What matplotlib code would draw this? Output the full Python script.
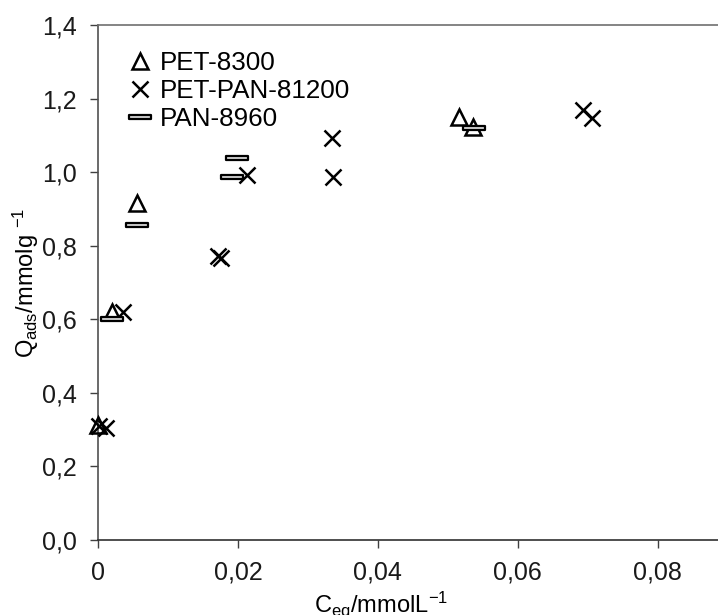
import matplotlib
matplotlib.use("Agg")
import matplotlib.pyplot as plt
from matplotlib.path import Path

# Adsorption isotherm data
pet_x = [0.0000, 0.0020, 0.0056, 0.0516, 0.0536]
pet_y = [0.313, 0.620, 0.916, 1.149, 1.122]

petpan_x = [0.0002, 0.0012, 0.0036, 0.0172, 0.0176, 0.0213, 0.0334, 0.0336, 0.0693, 0.0706]
petpan_y = [0.310, 0.305, 0.620, 0.772, 0.766, 0.992, 1.092, 0.986, 1.170, 1.146]

pan_x = [0.0020, 0.0056, 0.0191, 0.0199, 0.0537]
pan_y = [0.600, 0.857, 0.986, 1.038, 1.120]

labels = ["PET-8300", "PET-PAN-81200", "PAN-8960"]
x_ticks = [0, 0.02, 0.04, 0.06, 0.08]
x_ticklabels = ["0", "0,02", "0,04", "0,06", "0,08"]
y_ticks = [0.0, 0.2, 0.4, 0.6, 0.8, 1.0, 1.2, 1.4]
y_ticklabels = ["0,0", "0,2", "0,4", "0,6", "0,8", "1,0", "1,2", "1,4"]

plt.rcParams.update({
    "font.family": ["Liberation Sans", "DejaVu Sans"],
    "mathtext.default": "regular",
    "font.size": 18,
})

# flat rectangle marker used for PAN
bar_marker = Path([(-1, -0.22), (1, -0.22), (1, 0.22), (-1, 0.22), (-1, -0.22)],
                  [Path.MOVETO, Path.LINETO, Path.LINETO, Path.LINETO, Path.CLOSEPOLY])

fig = plt.figure(figsize=(7.18, 6.15), dpi=100)
ax = fig.add_axes([98 / 718, 1 - 540 / 615, 620 / 718, 515 / 615])

ax.plot(pet_x, pet_y, linestyle="none", marker="^", ms=11, mew=1.8,
        mfc="none", mec="black", label=labels[0], clip_on=False, zorder=3)
ax.plot(petpan_x, petpan_y, linestyle="none", marker="x", ms=11, mew=1.8,
        color="black", label=labels[1], clip_on=False, zorder=3)
ax.plot(pan_x, pan_y, linestyle="none", marker=bar_marker, ms=15.5, mew=1.6,
        mfc="#d9d9d9", mec="black", label=labels[2], clip_on=False, zorder=3)

ax.set_xlim(0, 0.0886)
ax.set_ylim(0, 1.4)
ax.set_xticks(x_ticks, x_ticklabels)
ax.set_yticks(y_ticks, y_ticklabels)
ax.tick_params(direction="out", length=6, width=1, color="#404040", pad=9,
               labelsize=18, labelcolor="#1a1a1a")

ax.spines["right"].set_visible(False)
ax.spines["top"].set_color("#707070")
ax.spines["left"].set_color("#505050")
ax.spines["bottom"].set_color("#303030")
for s in ("top", "left", "bottom"):
    ax.spines[s].set_linewidth(1.2)

ax.set_xlabel(r"C$_{eq}$/mmolL$^{-1}$", fontsize=17)
ax.xaxis.set_label_coords((381 - 98) / 620, -0.096)
ax.set_ylabel(r"Q$_{ads}$/mmolg $^{-1}$", fontsize=17)
ax.yaxis.set_label_coords(-0.092, 0.5)

leg = ax.legend(loc="upper left", bbox_to_anchor=(0.02, 0.985), frameon=False,
                handlelength=0.9, handletextpad=0.3, labelspacing=0.15,
                borderpad=0.2, fontsize=18.7)

fig.savefig("out.png", dpi=100)
